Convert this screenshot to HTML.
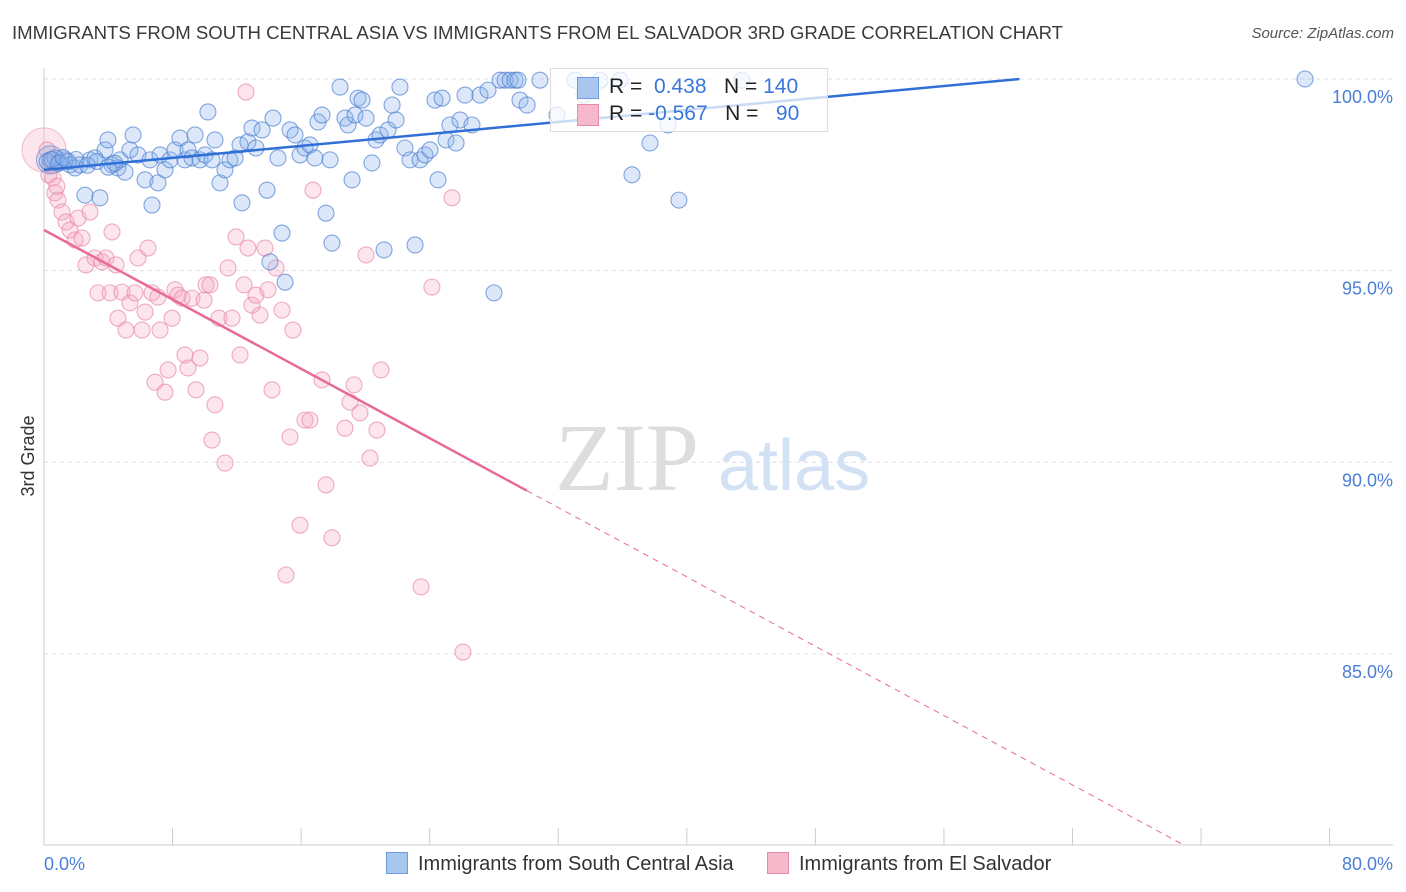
<!DOCTYPE html>
<html><head><meta charset="utf-8"><style>
body{margin:0;background:#fff;font-family:"Liberation Sans",sans-serif;}
#wrap{position:relative;width:1406px;height:892px;overflow:hidden;}
.t{position:absolute;white-space:nowrap;}
</style></head><body>
<div id="wrap">
<div class="t" style="left:12px;top:22px;font-size:18.6px;color:#3a3a3a;">IMMIGRANTS FROM SOUTH CENTRAL ASIA VS IMMIGRANTS FROM EL SALVADOR 3RD GRADE CORRELATION CHART</div>
<div class="t" style="right:12px;top:25px;font-size:15px;color:#555;font-style:italic;">Source: ZipAtlas.com</div>
<svg id="svg" width="1406" height="892" style="position:absolute;left:0;top:0"></svg>
</div>
<script>
const xTicks=[0,8,16,24,32,40,48,56,64,72,80];
const yTicks=[100,95,90,85];
const blueX=[0.37,0.68,1.0,1.31,1.62,1.93,2.24,2.55,2.86,3.17,3.48,3.8,3.98,4.23,4.6,4.73,5.04,5.35,5.54,5.85,6.29,6.6,6.72,7.09,7.22,7.53,7.84,8.15,8.46,8.77,8.96,9.21,9.4,9.71,10.02,10.2,10.45,10.64,10.95,11.26,11.57,11.89,12.2,12.32,12.69,12.94,13.19,13.57,13.88,14.06,14.25,14.56,14.81,15.0,15.31,15.62,15.93,16.24,16.55,16.86,17.05,17.3,17.55,17.8,17.92,18.42,18.73,18.92,19.17,19.35,19.54,19.79,20.04,20.41,20.66,20.91,21.16,21.41,21.66,21.91,22.15,22.46,22.78,23.09,23.4,23.71,24.02,24.33,24.52,24.77,25.02,25.26,25.64,25.89,26.2,26.63,27.13,27.63,28.0,28.38,28.69,29.0,29.31,29.5,29.62,30.06,30.86,31.92,33.04,33.6,34.6,35.84,36.59,37.71,38.83,39.51,43.43,78.47,0.2,0.5,0.9,1.2,1.5,2.0,2.7,3.3,4.0,4.4];
const blueY=[97.89,97.94,97.83,97.89,97.76,97.68,97.76,96.97,97.89,97.94,96.90,98.15,98.41,97.76,97.68,97.89,97.57,98.15,98.54,98.02,97.37,97.89,96.71,97.29,98.02,97.63,97.89,98.15,98.46,97.89,98.15,97.94,98.54,97.89,98.02,99.14,97.89,98.41,97.29,97.63,97.89,97.94,98.28,96.77,98.36,98.72,98.20,98.67,97.10,95.23,98.98,97.94,95.98,94.70,98.67,98.54,98.02,98.20,98.28,97.94,98.88,99.06,96.50,97.89,95.72,99.79,98.98,98.80,97.37,99.06,99.50,99.45,98.98,97.81,98.41,98.54,95.54,98.67,99.32,98.93,99.79,98.20,97.89,95.67,97.89,98.02,98.15,99.45,97.37,99.50,98.41,98.80,98.33,98.93,99.58,98.80,99.58,99.71,94.42,99.97,99.97,99.97,99.97,99.97,99.45,99.32,99.97,99.06,99.97,99.58,99.97,99.97,97.50,98.33,98.80,96.84,99.97,100.0,97.85,97.9,97.8,97.95,97.85,97.9,97.75,97.85,97.7,97.8];
const pinkX=[0.19,0.37,0.56,0.68,0.87,1.12,1.37,1.62,1.93,2.12,2.36,2.61,2.86,3.17,3.36,3.61,3.86,4.11,4.23,4.48,4.6,4.85,5.10,5.35,5.66,5.85,6.1,6.29,6.47,6.72,6.91,7.09,7.22,7.53,7.72,7.97,8.15,8.34,8.59,8.77,8.96,9.21,9.46,9.71,9.96,10.08,10.33,10.45,10.64,10.89,11.26,11.45,11.7,11.95,12.2,12.45,12.69,12.94,13.19,13.44,13.75,13.94,14.19,14.44,14.81,15.06,15.31,15.49,15.93,16.24,16.55,16.74,17.30,17.55,17.92,18.73,19.04,19.29,19.66,20.04,20.29,20.72,20.97,23.46,24.14,25.39,26.07,12.57,0.3,0.8];
const pinkY=[98.15,97.76,97.42,97.03,96.84,96.53,96.27,96.06,95.80,96.37,95.85,95.15,96.53,95.33,94.42,95.23,95.33,94.42,96.01,95.15,93.76,94.44,93.45,94.16,94.42,95.33,93.45,93.92,95.59,94.42,92.09,94.31,93.45,91.83,92.41,93.76,94.50,94.36,94.28,92.80,92.46,94.28,91.89,92.72,94.23,94.63,94.63,90.58,91.50,93.76,89.98,95.07,93.76,95.88,92.80,94.63,95.59,94.10,94.36,93.84,95.59,94.50,91.89,95.07,93.97,87.06,90.66,93.45,88.36,91.10,91.10,97.10,92.15,89.41,88.03,90.89,91.57,92.02,91.29,95.41,90.11,90.84,92.41,86.75,94.57,96.90,85.05,99.66,97.5,97.2];
const blueTrend=[[0,97.63],[60.7,100]];
const pinkSolid=[[0,96.06],[30.05,89.26]];
const pinkDash=[[30.05,89.26],[71.0,80.0]];
const X=v=>44+v*16.07, Y=v=>79+(100-v)*38.33;
const svg=document.getElementById('svg');
const NS='http://www.w3.org/2000/svg';
function mk(tag,attrs){const e=document.createElementNS(NS,tag);for(const k in attrs)e.setAttribute(k,attrs[k]);svg.appendChild(e);return e;}
yTicks.forEach(v=>{
 const g=mk('line',{x1:44,x2:1393,y1:Y(v),y2:Y(v),stroke:'#dde',"stroke-dasharray":'4,4'});
 
 
 const t=mk('text',{x:1393,y:Y(v)+24,"text-anchor":'end',fill:'#4a7fd6',"font-size":18,"font-family":'Liberation Sans'});
 t.textContent=v.toFixed(1)+'%';
 
 
});
let ax=mk('line',{x1:44,x2:44,y1:68,y2:845,stroke:'#ccc'});


let bx=mk('line',{x1:44,x2:1393,y1:845,y2:845,stroke:'#ccc'});


xTicks.forEach(v=>{
 const l=mk('line',{x1:X(v),x2:X(v),y1:828,y2:845,stroke:'#ccc'});
 
 
});
[['0.0%',44,'start'],['80.0%',1393,'end']].forEach(a=>{
 const t=mk('text',{x:a[1],y:870,"text-anchor":a[2],fill:'#4a7fd6',"font-size":18,"font-family":'Liberation Sans'});
 t.textContent=a[0];
 
 
});
let yt=mk('text',{x:34,y:456,transform:'rotate(-90 34 456)',"text-anchor":'middle',fill:'#333',"font-size":18,"font-family":'Liberation Sans'});
yt.textContent='3rd Grade';


let wm=mk('text',{x:555,y:490,fill:'#ddd',"font-size":96,"font-family":'Liberation Serif'});
wm.textContent='ZIP';


let wm2=mk('text',{x:718,y:490,fill:'#d3e1f4',"font-size":72,"font-family":'Liberation Sans'});
wm2.textContent='atlas';


let big=mk('circle',{cx:X(0),cy:Y(98.15),r:22,fill:'rgba(245,170,195,0.3)',stroke:'rgba(232,138,168,0.5)'});


pinkX.forEach((v,i)=>{
 const c=mk('circle',{cx:X(v),cy:Y(pinkY[i]),r:8,fill:'rgba(245,170,195,0.3)',stroke:'rgba(232,138,168,0.7)',"stroke-width":1.1});
 
 
});
let bb=mk('circle',{cx:X(0.4),cy:Y(97.89),r:14,fill:'rgba(140,178,235,0.3)',stroke:'rgba(80,130,210,0.6)'});


blueX.forEach((v,i)=>{
 const c=mk('circle',{cx:X(v),cy:Y(blueY[i]),r:8,fill:'rgba(140,178,235,0.3)',stroke:'rgba(80,130,210,0.7)',"stroke-width":1.1});
 
 
});
let bl=mk('line',{x1:X(blueTrend[0][0]),y1:Y(blueTrend[0][1]),x2:X(blueTrend[1][0]),y2:Y(blueTrend[1][1]),stroke:'#2f6fd6',"stroke-width":2.5});


let pl=mk('line',{x1:X(pinkSolid[0][0]),y1:Y(pinkSolid[0][1]),x2:X(pinkSolid[1][0]),y2:Y(pinkSolid[1][1]),stroke:'#e8699a',"stroke-width":2.5});


let pd=mk('line',{x1:X(pinkDash[0][0]),y1:Y(pinkDash[0][1]),x2:X(pinkDash[1][0]),y2:Y(pinkDash[1][1]),stroke:'#e8699a',"stroke-width":1,"stroke-dasharray":'6,5'});


</script>
<div class="t" style="left:550px;top:68px;width:276px;height:62px;border:1px solid #ddd;background:rgba(255,255,255,0.75);font-size:21px;">
 <div style="position:absolute;left:26px;top:8px;width:20px;height:20px;background:#a9c6ef;border:1px solid #6f9be0"></div>
 <div style="position:absolute;left:58px;top:6px;color:#222">R = <span style="color:#3a77d8">&nbsp;0.438</span>&nbsp;&nbsp;&nbsp;N = <span style="color:#3a77d8">140</span></div>
 <div style="position:absolute;left:26px;top:35px;width:20px;height:20px;background:#f6b9cc;border:1px solid #e88aa8"></div>
 <div style="position:absolute;left:58px;top:33px;color:#222">R = <span style="color:#3a77d8">-0.567</span>&nbsp;&nbsp;&nbsp;N = <span style="color:#3a77d8">&nbsp;&nbsp;90</span></div>
</div>
<div class="t" style="left:386px;top:852px;font-size:20px;color:#333;">
 <span style="display:inline-block;width:20px;height:20px;background:#a9c6ef;border:1px solid #6f9be0;vertical-align:-4px;margin-right:10px"></span>Immigrants from South Central Asia</div>
<div class="t" style="left:767px;top:852px;font-size:20px;color:#333;">
 <span style="display:inline-block;width:20px;height:20px;background:#f6b9cc;border:1px solid #e88aa8;vertical-align:-4px;margin-right:10px"></span>Immigrants from El Salvador</div>
</body></html>
